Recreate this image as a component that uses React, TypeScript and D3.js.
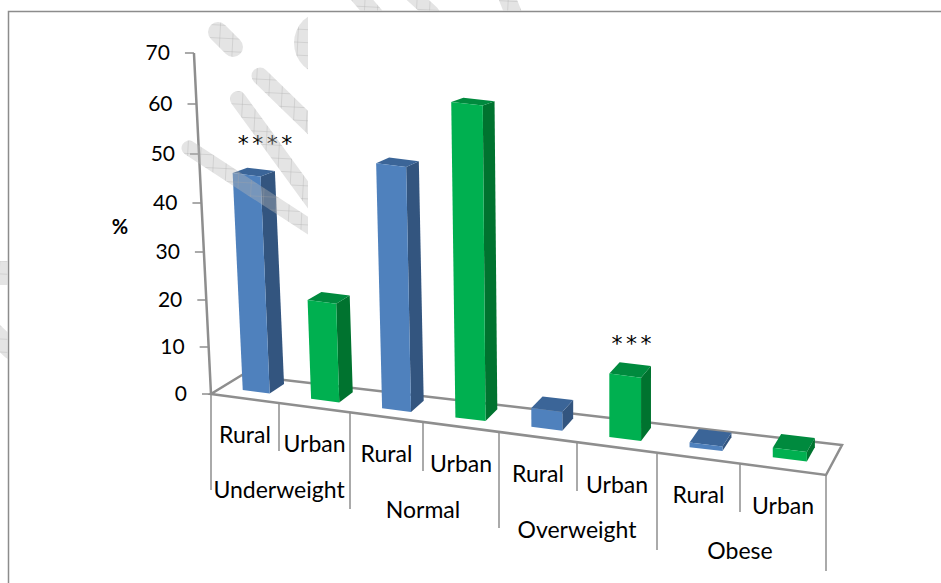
import React, { useEffect, useRef } from "react";
import * as d3 from "d3";

const groups = ["Underweight", "Normal", "Overweight", "Obese"];
const areas = ["Rural", "Urban"];
const rural = [45.3, 51, 4, 1];
const urban = [21, 65, 13.5, 2];
const yTicks = [0, 10, 20, 30, 40, 50, 60, 70];
const stars = [
  { slot: 0, text: "****" },
  { slot: 5, text: "***" },
];

const width = 941;
const height = 583;
const font = "Lato, sans-serif";
const axisColor = "#8e8e8e";
const blue = { front: "#4F81BD", top: "#3B6598", side: "#33557F" };
const green = { front: "#00B050", top: "#008A3E", side: "#00732F" };

// the picture is a 3D excel chart, slots get wider toward the viewer
const slotEdges = d3.range(0, 9);
const xFront = d3
  .scaleLinear()
  .domain(slotEdges)
  .range([211, 279, 350, 423, 499, 577, 657, 740, 826]);
const yFront = d3
  .scaleLinear()
  .domain(slotEdges)
  .range([394, 403, 413, 423, 432, 443, 454, 464, 475]);
const xBack = d3.scaleLinear().domain([211, 826]).range([242, 842]);
const yBack = d3.scaleLinear().domain([211, 826]).range([375, 445]);
const yValue = d3
  .scaleLinear()
  .domain(yTicks)
  .range([394, 347, 300, 252, 203, 154, 104, 53]);
const lean = d3.scaleLinear().domain([0, 4.5, 8]).range([-0.05, 0, 0]);

// u: position along the category axis, d: depth 0-1, v: value
const project = (u: number, d: number, v: number): [number, number] => {
  const fx = xFront(u);
  const h = yValue(0) - yValue(v);
  const x = fx + (xBack(fx) - fx) * d + lean(u) * h;
  const y = yFront(u) + (yBack(fx) - yFront(u)) * d - h;
  return [x, y];
};

const App = () => {
  const svgRef = useRef<SVGSVGElement | null>(null);

  useEffect(() => {
    const svg = d3.select(svgRef.current);
    svg.selectAll("*").remove();
    const poly = d3.line().curve(d3.curveLinearClosed);

    // === frame ===
    svg
      .append("path")
      .attr("d", `M8.5,${height}V11.5H${width}`)
      .attr("fill", "none")
      .attr("stroke", "#8c8c8c")
      .attr("stroke-width", 1.5);

    // === floor ===
    svg
      .append("path")
      .attr("d", poly([project(0, 0, 0), project(8, 0, 0), project(8, 1, 0), project(0, 1, 0)]))
      .attr("fill", "none")
      .attr("stroke", axisColor)
      .attr("stroke-width", 2.5);

    // === value axis ===
    svg
      .append("path")
      .attr("d", d3.line()(yTicks.map((v) => project(0, 0, v))))
      .attr("fill", "none")
      .attr("stroke", axisColor)
      .attr("stroke-width", 2.5);

    yTicks.forEach((v) => {
      const [x, y] = project(0, 0, v);
      svg
        .append("line")
        .attr("x1", x - 9)
        .attr("x2", x)
        .attr("y1", y)
        .attr("y2", y)
        .attr("stroke", axisColor)
        .attr("stroke-width", 1.5);
      svg
        .append("text")
        .attr("x", x - 24)
        .attr("y", y)
        .attr("dy", "0.35em")
        .attr("text-anchor", "end")
        .attr("font-family", font)
        .attr("font-size", 21)
        .text(v);
    });

    svg
      .append("text")
      .attr("x", 120)
      .attr("y", 227)
      .attr("dy", "0.35em")
      .attr("text-anchor", "middle")
      .attr("font-family", font)
      .attr("font-weight", "bold")
      .attr("font-size", 20)
      .text("%");

    // === category dividers and labels ===
    slotEdges.forEach((u) => {
      svg
        .append("line")
        .attr("x1", xFront(u))
        .attr("x2", xFront(u))
        .attr("y1", yFront(u))
        .attr("y2", yFront(u) + (u % 2 ? 48 : 96))
        .attr("stroke", axisColor)
        .attr("stroke-width", 1.5);
    });

    groups.forEach((group, g) => {
      areas.forEach((area, a) => {
        const u = g * 2 + a + 0.5;
        svg
          .append("text")
          .attr("x", xFront(u))
          .attr("y", yFront(u) + 36)
          .attr("dy", "0.35em")
          .attr("text-anchor", "middle")
          .attr("font-family", font)
          .attr("font-size", 23)
          .text(area);
      });
      const u = g * 2 + 1;
      svg
        .append("text")
        .attr("x", xFront(u))
        .attr("y", yFront(u) + 87)
        .attr("dy", "0.35em")
        .attr("text-anchor", "middle")
        .attr("font-family", font)
        .attr("font-size", 23)
        .text(group);
    });

    // === bars ===
    const barValues = groups.flatMap((_, g) => [rural[g], urban[g]]);
    barValues.forEach((v, slot) => {
      const u0 = slot + 0.31;
      const u1 = slot + 0.71;
      const d0 = 0.35;
      const d1 = 0.83;
      const c = slot % 2 ? green : blue;
      // the higher a top face sits, the flatter it looks
      const flat = 1 - (yValue(0) - yValue(v)) / 500;
      const backTop = (u: number): [number, number] => {
        const front = project(u, d0, v);
        const back = project(u, d1, v);
        return [back[0], front[1] + (back[1] - front[1]) * flat];
      };
      svg
        .append("path")
        .attr("d", poly([project(u1, d0, 0), project(u1, d1, 0), backTop(u1), project(u1, d0, v)]))
        .attr("fill", c.side);
      svg
        .append("path")
        .attr("d", poly([project(u0, d0, v), project(u1, d0, v), backTop(u1), backTop(u0)]))
        .attr("fill", c.top);
      svg
        .append("path")
        .attr("d", poly([project(u0, d0, 0), project(u1, d0, 0), project(u1, d0, v), project(u0, d0, v)]))
        .attr("fill", c.front);
    });

    // === significance stars ===
    stars.forEach((s) => {
      const u = s.slot + 0.31;
      const x = project(u, 0.35, 0)[0];
      const y = project(u, 0.35, barValues[s.slot])[1];
      svg
        .append("text")
        .attr("x", x + 24)
        .attr("y", y - 30)
        .attr("dy", "0.35em")
        .attr("text-anchor", "middle")
        .attr("font-family", "'DejaVu Sans', sans-serif")
        .attr("font-size", 22)
        .attr("letter-spacing", 3.5)
        .text(s.text);
    });

    // === watermark: hatched strokes, cut off where the source image was pasted over ===
    const defs = svg.append("defs");
    const pattern = defs
      .append("pattern")
      .attr("id", "hatch")
      .attr("patternUnits", "userSpaceOnUse")
      .attr("width", 13)
      .attr("height", 13)
      .attr("patternTransform", "rotate(3)");
    pattern
      .append("rect")
      .attr("width", 13)
      .attr("height", 13)
      .attr("fill", "#b8b8b8")
      .attr("fill-opacity", 0.38);
    pattern
      .append("path")
      .attr("d", "M0,0.5H13M0.5,0V13")
      .attr("stroke", "#a8a8a8")
      .attr("stroke-opacity", 0.3);

    const clip = defs.append("clipPath").attr("id", "mark-clip");
    clip.append("rect").attr("x", 180).attr("y", 13).attr("width", 128).attr("height", 570);
    clip.append("rect").attr("x", 0).attr("y", 0).attr("width", 7.5).attr("height", height);
    clip.append("rect").attr("x", 0).attr("y", 0).attr("width", width).attr("height", 10.5);

    const mark = svg.append("g").attr("clip-path", "url(#mark-clip)");
    const strokes: [number, number, number, number, number][] = [
      [218, 32, 233, 47, 20],
      [260, 76, 330, 144, 17],
      [238, 99, 330, 225, 16],
      [189, 148, 330, 240, 15],
      [340, -26, 375, 15, 17],
      [396, -20, 432, 13, 15],
      [496, -30, 514, 15, 17],
      [-30, 273, 10, 273, 24],
      [-20, 320, 12, 350, 20],
    ];
    strokes.forEach(([x1, y1, x2, y2, w]) => {
      mark
        .append("line")
        .attr("x1", x1)
        .attr("y1", y1)
        .attr("x2", x2)
        .attr("y2", y2)
        .attr("stroke", "url(#hatch)")
        .attr("stroke-width", w)
        .attr("stroke-linecap", "round");
    });
    mark.append("circle").attr("cx", 326).attr("cy", 43).attr("r", 32).attr("fill", "url(#hatch)");
  }, []);

  return (
    <svg
      ref={svgRef}
      width={width}
      height={height}
      style={{ position: "absolute", left: 0, top: 0, display: "block" }}
    />
  );
};

export default App;
